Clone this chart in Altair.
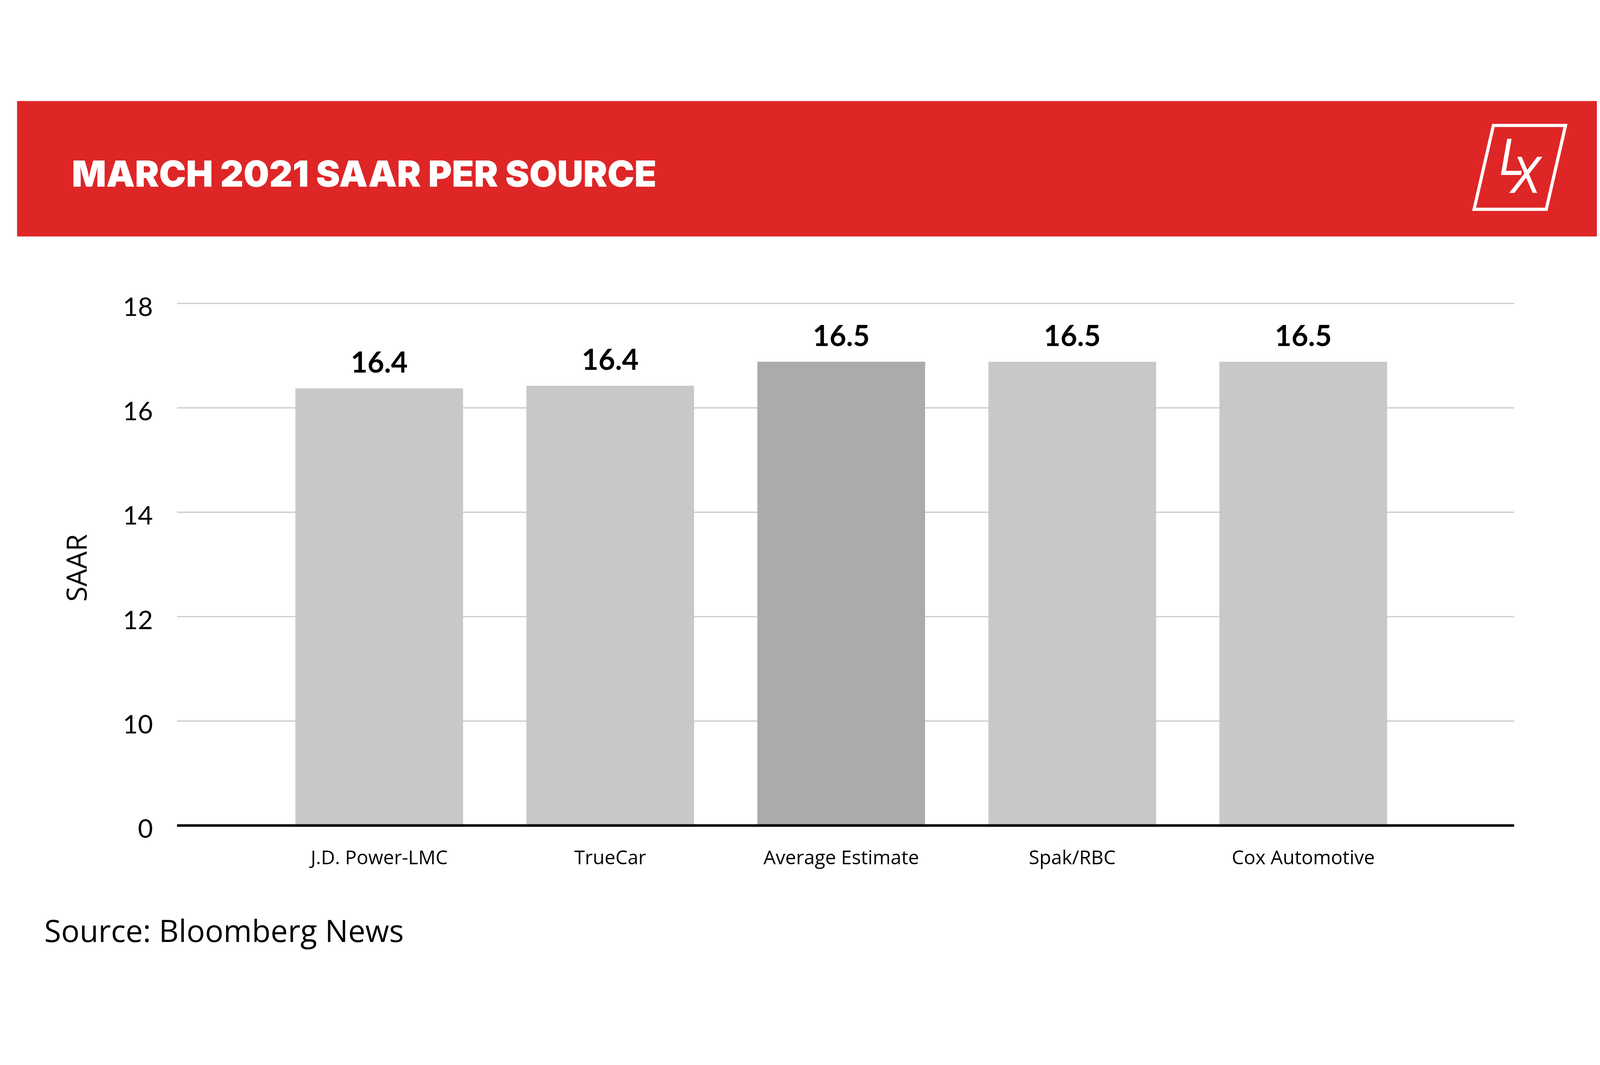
import altair as alt
import pandas as pd

# ---- data ----
categories = ["J.D. Power-LMC", "TrueCar", "Average Estimate", "Spak/RBC", "Cox Automotive"]
bar_values = [16.37, 16.42, 16.88, 16.88, 16.88]        # drawn bar heights
value_labels = ["16.4", "16.4", "16.5", "16.5", "16.5"]  # printed labels
y_ticks = [0, 10, 12, 14, 16, 18]
title_text = "MARCH 2021 SAAR PER SOURCE"
y_title = "SAAR"
source_text = "Source: Bloomberg News"
logo_letters = ["L", "X"]
highlight = "Average Estimate"

df = pd.DataFrame({"source": categories, "saar": bar_values, "label": value_labels})
one = pd.DataFrame({"k": [0]})

W, H = 4225, 1650
FONT = "Open Sans"
NUM_FONT = "Lato"
RED = "#DE2627"

header = alt.Chart(one).mark_rect(color=RED).encode(
    x=alt.value(-505), x2=alt.value(4495), y=alt.value(-639), y2=alt.value(-211)
)

title = alt.Chart(one).mark_text(
    text=title_text, font="Inter", fontSize=114, fontWeight=900, color="white",
    align="left", baseline="alphabetic"
).encode(x=alt.value(-332), y=alt.value(-369))

logo_path = "M -0.557 -0.883 L 0.963 -0.883 L 0.557 0.883 L -0.963 0.883 Z"
logo_box = alt.Chart(one).mark_point(
    shape=logo_path, filled=False, stroke="white", strokeWidth=10, opacity=1, size=90000
).encode(x=alt.value(4243.5), y=alt.value(-429.5))

LOGO_FONT = "DejaVu Sans Condensed, Liberation Sans Narrow, DejaVu Sans"
logo_L = alt.Chart(one).mark_text(
    text=logo_letters[0], font=LOGO_FONT, fontSize=156, fontStyle="italic", color="white",
    align="left", baseline="alphabetic"
).encode(x=alt.value(4180), y=alt.value(-405))
logo_X = alt.Chart(one).mark_text(
    text=logo_letters[1], font=LOGO_FONT, fontSize=156, fontStyle="italic", color="white",
    align="left", baseline="alphabetic"
).encode(x=alt.value(4216), y=alt.value(-349))

x_enc = alt.X(
    "source:N", sort=categories,
    scale=alt.Scale(paddingInner=0.274, paddingOuter=0.531, align=0.483),
    axis=alt.Axis(
        title=None, labelAngle=0, labelFont=FONT, labelFontSize=61, labelColor="#000000",
        labelPadding=75, labelLimit=2000, ticks=False, tickSize=0, domain=True,
        domainColor="#000000", domainWidth=8, grid=False, zindex=1,
    ),
)
y_enc = alt.Y(
    "saar:Q",
    scale=alt.Scale(domain=[0, 10, 18], range=[H, H * 0.8, 0], nice=False, zero=False),
    axis=alt.Axis(
        values=y_ticks, format="d", title=y_title, titleFont=FONT, titleFontSize=88,
        titleFontWeight="normal", titleColor="#000000", titleAngle=270, titleX=-285, titleY=836,
        titleAlign="center", titleBaseline="alphabetic", labelFont=NUM_FONT, labelFontSize=82,
        labelColor="#000000", labelPadding=76, labelBaseline="alphabetic", labelOffset=39,
        labelOverlap=False, ticks=False, tickSize=0, domain=False, grid=True,
        gridColor="#CCCCCC", gridWidth=4, zindex=0,
    ),
)

bars = alt.Chart(df).mark_bar().encode(
    x=x_enc, y=y_enc,
    color=alt.condition(alt.datum.source == highlight, alt.value("#ABABAB"), alt.value("#C8C8C8")),
)

labels = alt.Chart(df).mark_text(
    font=NUM_FONT, fontSize=91, fontWeight=700, color="#000000", baseline="alphabetic", dy=-50
).encode(x=alt.X("source:N", sort=categories), y="saar:Q", text="label:N")

source = alt.Chart(one).mark_text(
    text=source_text, font=FONT, fontSize=97, color="#000000", align="left", baseline="alphabetic"
).encode(x=alt.value(-419), y=alt.value(2019))

chart = alt.layer(header, title, logo_box, logo_L, logo_X, bars, labels, source).properties(
    width=W, height=H,
    padding={"left": 549, "top": 631, "right": 262, "bottom": 430},
    autosize=alt.AutoSizeParams(type="none"),
    background="white",
).configure_view(stroke=None)

chart.save("out.html", embed_options={"renderer": "svg", "actions": False})
